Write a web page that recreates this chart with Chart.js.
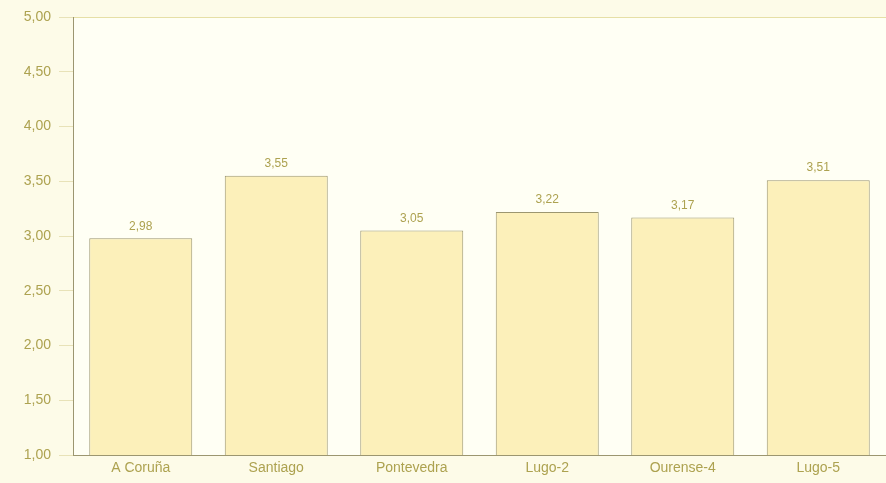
<!DOCTYPE html>
<html>
<head>
<meta charset="utf-8">
<script src="https://cdn.jsdelivr.net/npm/chart.js@4.4.1/dist/chart.umd.min.js"></script>
<style>
  html, body { margin: 0; padding: 0; background: #fdfbe8; }
  #wrap { width: 886px; height: 483px; position: relative; }
</style>
</head>
<body>
<div id="wrap"><canvas id="grafico"></canvas></div>
<script>
// datos del gráfico
var categorias = ["A Coruña", "Santiago", "Pontevedra", "Lugo-2", "Ourense-4", "Lugo-5"];
var valores = [2.98, 3.55, 3.05, 3.22, 3.17, 3.51];
var ejeMin = 1, ejeMax = 5, ejePaso = 0.5;

var colorTexto = '#ada250';
var colorLinea = '#9c9670';

function coma(v) {
    return v.toFixed(2).replace('.', ',');
}

// fondo del área del gráfico
var fondoPlugin = {
    id: 'fondo',
    beforeDraw: function (chart) {
        var a = chart.chartArea, c = chart.ctx;
        c.save();
        c.fillStyle = '#fffff4';
        c.fillRect(a.left, a.top, a.right - a.left, a.bottom - a.top);
        c.restore();
    }
};

// etiquetas de valor encima de las barras
var etiquetasPlugin = {
    id: 'etiquetas',
    afterDatasetsDraw: function (chart) {
        var c = chart.ctx;
        var meta = chart.getDatasetMeta(0);
        c.save();
        c.font = '12px "Liberation Sans", Arial, sans-serif';
        c.fillStyle = colorTexto;
        c.textAlign = 'center';
        c.textBaseline = 'bottom';
        meta.data.forEach(function (bar, i) {
            c.fillText(coma(valores[i]), bar.x, bar.y - 6);
        });
        c.restore();
    }
};

var ctx = document.getElementById('grafico').getContext('2d');
var grafico = new Chart(ctx, {
    type: 'bar',
    data: {
        labels: categorias,
        datasets: [{
            data: valores,
            backgroundColor: '#fcf0ba',
            borderColor: colorLinea,
            borderWidth: 1,
            barPercentage: 0.76,
            categoryPercentage: 1
        }]
    },
    options: {
        responsive: true,
        maintainAspectRatio: false,
        animation: false,
        layout: { padding: { top: 17, right: 0, left: 0, bottom: 0 } },
        plugins: {
            legend: { display: false },
            tooltip: { enabled: false }
        },
        scales: {
            x: {
                grid: { display: false },
                border: { display: true, color: colorLinea, width: 1 },
                ticks: {
                    color: colorTexto,
                    padding: -3,
                    font: { size: 14, family: '"Liberation Sans", Arial, sans-serif' }
                },
                afterFit: function (s) { s.height = 28; }
            },
            y: {
                min: ejeMin,
                max: ejeMax,
                grid: {
                    drawOnChartArea: true,
                    drawTicks: true,
                    tickLength: 14,
                    color: function (c) { return c.tick && c.tick.value === ejeMax ? '#e6dfa6' : 'rgba(0,0,0,0)'; },
                    tickColor: '#e8e2b8'
                },
                border: { display: true, color: colorLinea, width: 1 },
                ticks: {
                    stepSize: ejePaso,
                    color: colorTexto,
                    padding: 8,
                    font: { size: 14, family: '"Liberation Sans", Arial, sans-serif' },
                    callback: function (v) { return coma(v); }
                },
                afterFit: function (s) { s.width = 73; }
            }
        }
    },
    plugins: [fondoPlugin, etiquetasPlugin]
});
</script>
</body>
</html>
